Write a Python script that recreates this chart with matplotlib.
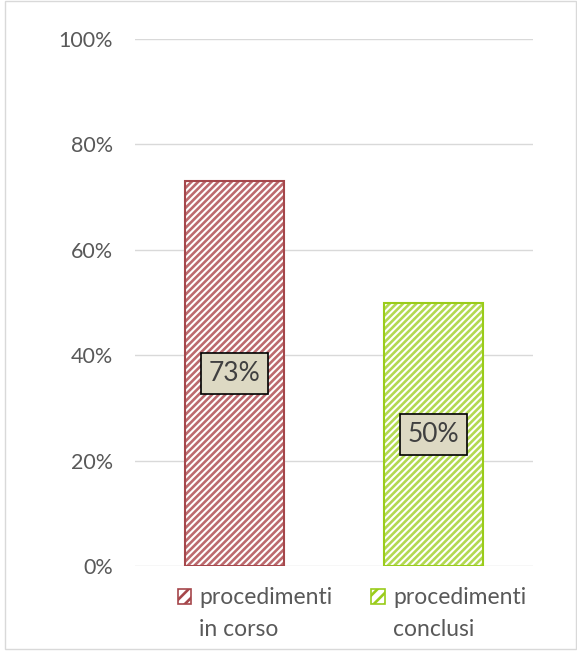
import matplotlib.pyplot as plt
from matplotlib.patches import Rectangle, Patch

# dati
categorie = ["procedimenti", "procedimenti"]
seconda_riga = ["in corso", "conclusi"]
valori = [73, 50]
etichette = ["73%", "50%"]
colori = ["#A5474B", "#9ACC1B"]
colori_tratteggio = ["#BC6A6E", "#B3D952"]
tick_y = [0, 20, 40, 60, 80, 100]

plt.rcParams["font.family"] = ["Lato", "DejaVu Sans"]
plt.rcParams["hatch.linewidth"] = 1.9

W, H = 577, 652
fig = plt.figure(figsize=(W / 100, H / 100), dpi=100)
ax = fig.add_axes([0.234, 0.132, 0.69, 0.808])

for i, v in enumerate(valori):
    # tratteggio
    ax.bar(i, v, width=0.5, color="white", edgecolor=colori_tratteggio[i],
           hatch="/////", linewidth=0, zorder=3)
    # contorno
    ax.bar(i, v, width=0.5, fill=False, edgecolor=colori[i], linewidth=1.5, zorder=4)
    ax.text(i, v / 2, etichette[i], ha="center", va="center", fontsize=19,
            color="#404040", zorder=5,
            bbox=dict(boxstyle="square,pad=0.3", facecolor="#DDD9C3",
                      edgecolor="black", linewidth=1.2))

ax.set_xlim(-0.5, 1.5)
ax.set_ylim(0, 100)
ax.set_yticks(tick_y)
ax.set_yticklabels([f"{t}%" for t in tick_y], fontsize=15.5, color="#595959")
ax.set_xticks([])
ax.tick_params(axis="y", length=0, pad=16)
ax.grid(axis="y", color="#D9D9D9", linewidth=1, zorder=0)
for s in ax.spines.values():
    s.set_visible(False)

# legenda: prima riga con il simbolo, seconda riga sotto il testo
maniglie = [Patch(facecolor="white", edgecolor=colori[i], hatch="///",
                  linewidth=1.2) for i in range(2)]
leg = fig.legend(handles=maniglie, labels=categorie, loc="center",
                 bbox_to_anchor=(0.61, 54 / H), ncol=2, frameon=False, fontsize=16.5,
                 labelcolor="#595959", handlelength=0.6, handleheight=0.6,
                 handletextpad=0.35, columnspacing=1.7)

fig.canvas.draw()
for t, riga in zip(leg.get_texts(), seconda_riga):
    bb = t.get_window_extent()
    fig.text(bb.x0 / W, (bb.y0 - 31) / H, riga, fontsize=16.5, color="#595959",
             ha="left", va="bottom")

# bordo esterno
fig.add_artist(Rectangle((0.008, 0.005), 0.99, 0.994, transform=fig.transFigure,
                         fill=False, edgecolor="#D9D9D9", linewidth=1))

fig.savefig("out.png", dpi=100)
